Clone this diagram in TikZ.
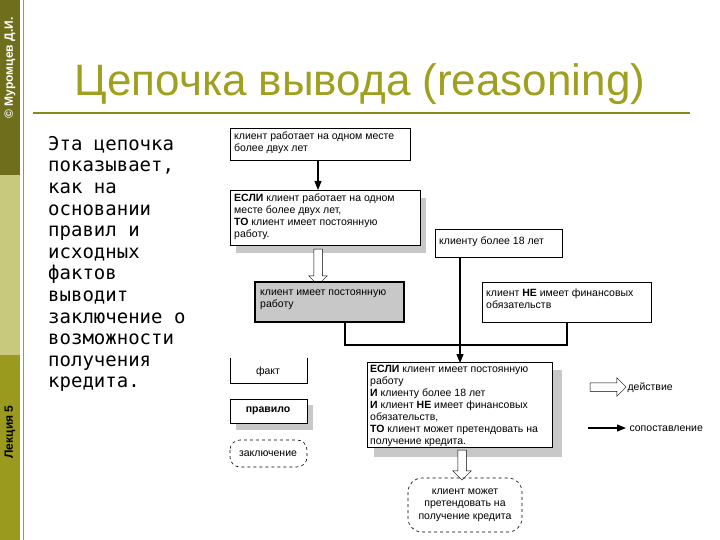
\documentclass[tikz,border=0pt]{standalone}
\usepackage{fontspec}
\setmainfont{Liberation Sans}
\newfontfamily\monof{DejaVu Sans Mono}
\usetikzlibrary{arrows.meta,shapes.arrows}
\definecolor{olive1}{HTML}{6E6E1C}
\definecolor{olive2}{HTML}{C9C97E}
\definecolor{olive3}{HTML}{9A9A1E}
\definecolor{titlec}{HTML}{A0A020}
\definecolor{shad}{HTML}{C8C8C8}
\begin{document}
\begin{tikzpicture}[x=1pt,y=-1pt,
  box/.style={draw,line width=0.6pt,fill=white,anchor=north west,inner sep=0pt},
  txt/.style={font=\fontsize{10.5}{12}\selectfont,align=left,anchor=north west,inner sep=0pt},
  sh/.style={fill=shad},
  hollow/.style={draw,fill=white,single arrow,single arrow head extend=5pt,minimum height=#1,inner sep=4pt,line width=0.5pt},
  solid/.style={-{Triangle[length=9pt,width=7pt]},line width=1.2pt},
  ln/.style={line width=1.2pt}]
\useasboundingbox (0,0) rectangle (720,540);
\fill[white] (0,0) rectangle (720,540);
% side bar
\fill[olive1] (0,0) rectangle (20,175);
\fill[olive2] (0,175) rectangle (20,355);
\fill[olive3] (0,355) rectangle (20,540);
\draw[olive1!70,line width=0.6pt] (23,0) -- (23,540);
\node[rotate=90,text=white,font=\bfseries\fontsize{12}{13}\selectfont] (au) at (10,68) {© Муромцев Д.И.};
\node[rotate=90,font=\bfseries\fontsize{12}{13}\selectfont] (lec) at (10,432) {Лекция 5};
% title
\node[text=titlec,font=\fontsize{44}{48}\selectfont,
  postaction={}] (title) at (360,84) {Цепочка вывода (reasoning)};
\draw[titlec!85!black,line width=1.5pt] (33,113) -- (690,113);
% body text
\node[anchor=north west,align=left,inner sep=0pt,font=\monof\fontsize{19}{21.6}\selectfont] (body) at (48,136)
 {Эта цепочка\\показывает,\\как на\\основании\\правил и\\исходных\\фактов\\выводит\\заключение о\\возможности\\получения\\кредита.};
% fact 1
\draw[box] (230,128) rectangle (410,160);
\node[txt] (f1) at (234,132) {клиент работает на одном месте\\более двух лет};
% rule 1
\fill[sh] (236,198) rectangle (426,253);
\draw[box] (230,190) rectangle (420,245);
\node[txt] (r1) at (234,194) {\textbf{ЕСЛИ} клиент работает на одном\\месте более двух лет,\\\textbf{ТО} клиент имеет постоянную\\работу.};
\coordinate (a1s) at (318,160); \coordinate (a1e) at (318,190);
\draw[solid] (a1s) -- (a1e);
% hollow 1
\node[hollow=36pt,rotate=-90] (h1) at (318,265) {};
% conclusion gray
\draw[line width=2.2pt,fill=shad] (255,282) rectangle (404,322);
\node[txt] (c1) at (260,290) {клиент имеет постоянную\\работу};
% fact 18
\draw[box] (435,229) rectangle (562,257);
\node[txt] (f2) at (439,237) {клиенту более 18 лет};
% fact НЕ
\draw[box] (482,282) rectangle (651,322);
\node[txt] (f3) at (486,289) {клиент \textbf{НЕ} имеет финансовых\\обязательств};
% connectors
\coordinate (j1) at (345,345); \coordinate (j2) at (460,345); \coordinate (j3) at (567,345);
\draw[ln] (345,322) -- (j1) -- (j3) -- (567,322);
\draw[ln] (460,257) -- (j2);
\draw[solid] (j2) -- (460,363);
% rule 2
\fill[sh] (374,370) rectangle (562,457);
\draw[box] (367,362) rectangle (552,447);
\node[txt,font=\fontsize{10.5}{12}\selectfont] (r2) at (370,365) {\textbf{ЕСЛИ} клиент имеет постоянную\\работу\\\textbf{И} клиенту более 18 лет\\\textbf{И} клиент \textbf{НЕ} имеет финансовых\\обязательств,\\\textbf{ТО} клиент может претендовать на\\получение кредита.};
\node[hollow=30pt,rotate=-90] (h2) at (462,463) {};
% final conclusion
\draw[dashed,rounded corners=14pt,line width=0.6pt] (408,478) rectangle (522,532);
\node[font=\fontsize{10.5}{12.5}\selectfont,align=center] (c2) at (465,505) {клиент может\\претендовать на\\получение кредита};
% legend
\draw[line width=0.6pt] (230,358) -- (230,383) -- (307,383) -- (307,358);
\node[font=\fontsize{10.5}{11}\selectfont] (lf) at (268,372) {факт};
\fill[sh] (236,405) rectangle (313,430);
\draw[box] (230,399) rectangle (307,423);
\node[font=\bfseries\fontsize{10.5}{11}\selectfont] (lr) at (268,411) {правило};
\draw[dashed,rounded corners=10pt,line width=0.6pt] (230,440) rectangle (307,467);
\node[font=\fontsize{10.5}{11}\selectfont] (lc) at (268,454) {заключение};
\node[hollow=36pt] (lh) at (606,387) {};
\node[anchor=west,font=\fontsize{10.5}{11}\selectfont] (ld) at (624,388) {действие};
\coordinate (ls) at (588,428); \coordinate (le) at (626,428);
\draw[solid] (ls) -- (le);
\node[anchor=west,font=\fontsize{10.5}{11}\selectfont] (lm) at (626,429) {сопоставление};
\end{tikzpicture}
\end{document}
